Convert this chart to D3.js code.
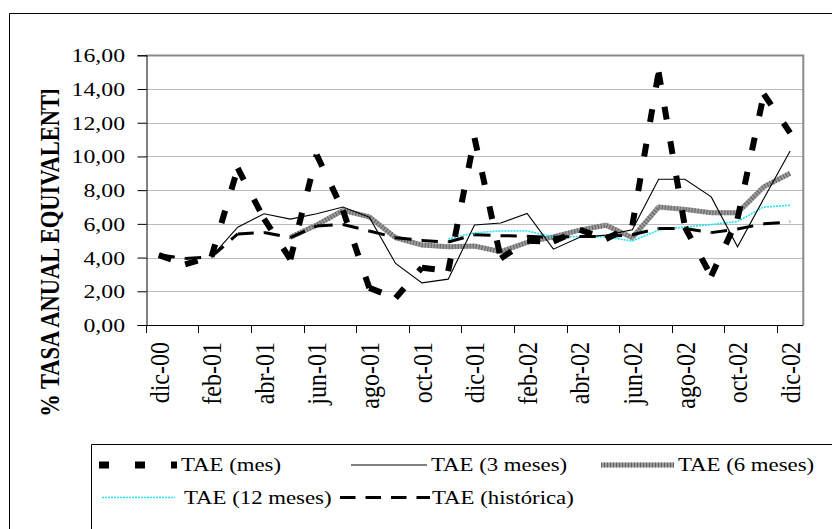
<!DOCTYPE html>
<html>
<head>
<meta charset="utf-8">
<script src="https://cdn.jsdelivr.net/npm/d3@7"></script>
<style>
  body { margin: 0; background: #fff; }
  text { font-family: "Liberation Serif", "Times New Roman", serif; fill: #000; }
</style>
</head>
<body>
<div id="chart"></div>
<script>
// monthly categories, Dec 2000 .. Dec 2002
const months = ["dic-00","ene-01","feb-01","mar-01","abr-01","may-01","jun-01","jul-01","ago-01","sep-01","oct-01","nov-01",
                "dic-01","ene-02","feb-02","mar-02","abr-02","may-02","jun-02","jul-02","ago-02","sep-02","oct-02","nov-02","dic-02"];

const taeMes  = [4.15, 3.6, 4.05, 9.3, 6.3, 3.9, 10.1, 6.8, 2.2, 1.6, 3.4, 3.2, 11.1, 3.95, 5.0, 4.95, 5.65, 5.1, 5.9, 15.0, 5.8, 2.9, 6.3, 13.7, 11.4];
const tae3m   = [null, null, 4.05, 5.8, 6.6, 6.28, 6.6, 7.0, 6.4, 3.65, 2.5, 2.72, 5.93, 6.05, 6.62, 4.5, 5.2, 5.33, 5.65, 8.65, 8.65, 7.6, 4.64, 7.5, 10.32];
const tae6m   = [null, null, null, null, null, 5.2, 5.93, 6.8, 6.42, 5.18, 4.75, 4.64, 4.68, 4.35, 4.9, 5.23, 5.63, 5.92, 5.18, 7.0, 6.86, 6.66, 6.66, 8.2, 9.0];
const tae12m  = [null, null, null, null, null, null, null, null, null, null, null, 5.1, 5.47, 5.58, 5.58, 5.22, 5.25, 5.22, 4.98, 5.63, 5.82, 5.96, 6.14, 7.0, 7.1];
const taeHist = [4.15, 3.95, 4.05, 5.4, 5.49, 5.18, 5.88, 5.96, 5.58, 5.18, 5.02, 4.92, 5.35, 5.3, 5.27, 5.2, 5.25, 5.25, 5.35, 5.73, 5.73, 5.48, 5.7, 6.0, 6.12];

const yTicks = [0, 2, 4, 6, 8, 10, 12, 14, 16];
const legendNames = ["TAE (mes)", "TAE (3 meses)", "TAE (6 meses)", "TAE (12 meses)", "TAE (histórica)"];

const width = 832, height = 529;
const plot = { left: 145.7, right: 803.3, top: 55.3, bottom: 325 };

const svg = d3.select("#chart").append("svg")
    .attr("width", width)
    .attr("height", height);

const x = d3.scaleBand().domain(months).range([plot.left, plot.right]);
const cx = m => x(m) + x.bandwidth() / 2;
const y = d3.scaleLinear().domain([0, 16]).range([plot.bottom, plot.top]);
const fmt = v => d3.format(".2f")(v).replace(".", ",");

// outer chart border (runs past the right and bottom of the picture)
svg.append("path")
    .attr("d", `M9.5,${height + 5} V13.5 H${width + 5}`)
    .attr("fill", "none").attr("stroke", "#000").attr("stroke-width", 1);

// gridlines
svg.append("g").selectAll("line")
    .data(yTicks.filter(d => d > 0))
    .enter().append("line")
    .attr("x1", plot.left).attr("x2", plot.right)
    .attr("y1", d => Math.round(y(d)) + 0.5).attr("y2", d => Math.round(y(d)) + 0.5)
    .attr("stroke", "#bcbcbc").attr("stroke-width", 1);

// plot area frame (top / right)
svg.append("path")
    .attr("d", `M${plot.left},${Math.round(plot.top) + 0.5} H${plot.right} V${plot.bottom}`)
    .attr("fill", "none").attr("stroke", "#8a8a8a").attr("stroke-width", 2);

// y axis
const yAxis = svg.append("g")
    .attr("transform", `translate(${Math.round(plot.left) + 0.5},0)`)
    .call(d3.axisLeft(y).tickValues(yTicks).tickSize(9).tickFormat(fmt));
yAxis.select(".domain").attr("stroke", "#000");
yAxis.selectAll(".tick line").attr("stroke", "#000");
yAxis.selectAll(".tick text")
    .attr("x", null)
    .attr("dy", "0.34em")
    .attr("transform", `translate(${125 - Math.round(plot.left) - 0.5},0) scale(1.25,1)`)
    .style("font-size", "19px")
    .style("font-family", "'Liberation Serif', serif");

// x axis line and tick marks on category boundaries, every two months
const evenMonths = months.filter((m, i) => i % 2 === 0);
const xAxisG = svg.append("g");
xAxisG.append("line")
    .attr("x1", plot.left).attr("x2", plot.right)
    .attr("y1", Math.round(plot.bottom) + 0.5).attr("y2", Math.round(plot.bottom) + 0.5)
    .attr("stroke", "#000");
xAxisG.selectAll(".xt")
    .data(evenMonths)
    .enter().append("line")
    .attr("class", "xt")
    .attr("x1", d => Math.round(x(d)) + 0.5).attr("x2", d => Math.round(x(d)) + 0.5)
    .attr("y1", plot.bottom).attr("y2", plot.bottom + 8)
    .attr("stroke", "#000");
xAxisG.selectAll(".xl")
    .data(evenMonths)
    .enter().append("text")
    .attr("class", "xl")
    .attr("transform", d => `translate(${cx(d)},342) rotate(-90) scale(1,1.15)`)
    .attr("text-anchor", "end")
    .attr("dy", "0.35em")
    .style("font-size", "24px")
    .text(d => d);

// y axis title (clipped at the top like the original)
svg.append("clipPath").attr("id", "titleClip")
    .append("rect").attr("x", 0).attr("y", 90).attr("width", 140).attr("height", 430);
svg.append("g").attr("clip-path", "url(#titleClip)")
    .append("text")
    .attr("transform", "translate(49,80) rotate(-90) scale(1,1.25)")
    .attr("text-anchor", "end")
    .attr("dy", "0.35em")
    .style("font-size", "22.5px")
    .style("font-weight", "bold")
    .text("% TASA ANUAL EQUIVALENTE");

// series
const pts = vals => months.map((m, i) => vals[i] == null ? null : [cx(m), y(vals[i])]);
const line = d3.line().defined(d => d);

// dashed series: the dash pattern restarts on every segment
function dashedSegments(vals, stroke, sw, dash) {
    const p = pts(vals);
    const segs = d3.pairs(p).filter(s => s[0] && s[1]);
    svg.append("g").selectAll("line")
        .data(segs)
        .enter().append("line")
        .attr("x1", d => d[0][0]).attr("y1", d => d[0][1])
        .attr("x2", d => d[1][0]).attr("y2", d => d[1][1])
        .attr("stroke", stroke)
        .attr("stroke-width", sw)
        .attr("stroke-dasharray", dash);
}

function grayBand(g, d) {
    g.append("path").attr("d", d).attr("fill", "none")
        .attr("stroke", "#9c9c9c").attr("stroke-width", 5);
    g.append("path").attr("d", d).attr("fill", "none")
        .attr("stroke", "#3c3c3c").attr("stroke-width", 5)
        .attr("stroke-dasharray", "1,2").attr("opacity", 0.6);
}

grayBand(svg.append("g"), line(pts(tae6m)));

svg.append("path")
    .attr("d", line(pts(tae12m)))
    .attr("fill", "none").attr("stroke", "#22e4f2").attr("stroke-width", 1.6)
    .attr("stroke-dasharray", "2,1");

svg.append("path")
    .attr("d", line(pts(tae3m)))
    .attr("fill", "none").attr("stroke", "#000").attr("stroke-width", 1.1);

dashedSegments(taeHist, "#000", 3, "16,10");
dashedSegments(taeMes, "#000", 6, "13,22");

// legend
const lg = svg.append("g");
lg.append("path")
    .attr("d", `M91.5,${height + 5} V444.5 H${width + 5}`)
    .attr("fill", "none").attr("stroke", "#000");

const legendItems = [
    { name: legendNames[0], x1: 99, x2: 177, tx: 181, y: 465 },
    { name: legendNames[1], x1: 351, x2: 427, tx: 431, y: 465 },
    { name: legendNames[2], x1: 601, x2: 674, tx: 678, y: 465 },
    { name: legendNames[3], x1: 102, x2: 175, tx: 184, y: 497.5 },
    { name: legendNames[4], x1: 340, x2: 430, tx: 432, y: 497.5 }
];

const sym = legendItems.map(d => `M${d.x1},${d.y} H${d.x2}`);
lg.append("path").attr("d", sym[0]).attr("stroke", "#000").attr("stroke-width", 7).attr("stroke-dasharray", "10,26");
lg.append("path").attr("d", sym[1]).attr("stroke", "#000").attr("stroke-width", 1.1);
grayBand(lg, sym[2]);
lg.append("path").attr("d", sym[3]).attr("stroke", "#22e4f2").attr("stroke-width", 1.6).attr("stroke-dasharray", "2,1");
lg.append("path").attr("d", sym[4]).attr("stroke", "#000").attr("stroke-width", 3).attr("stroke-dasharray", "15.5,10");

lg.selectAll(".lt")
    .data(legendItems)
    .enter().append("text")
    .attr("class", "lt")
    .attr("transform", d => `translate(${d.tx},${d.y}) scale(1.2,1)`)
    .attr("dy", "0.33em")
    .style("font-size", "19px")
    .text(d => d.name);
</script>
</body>
</html>
